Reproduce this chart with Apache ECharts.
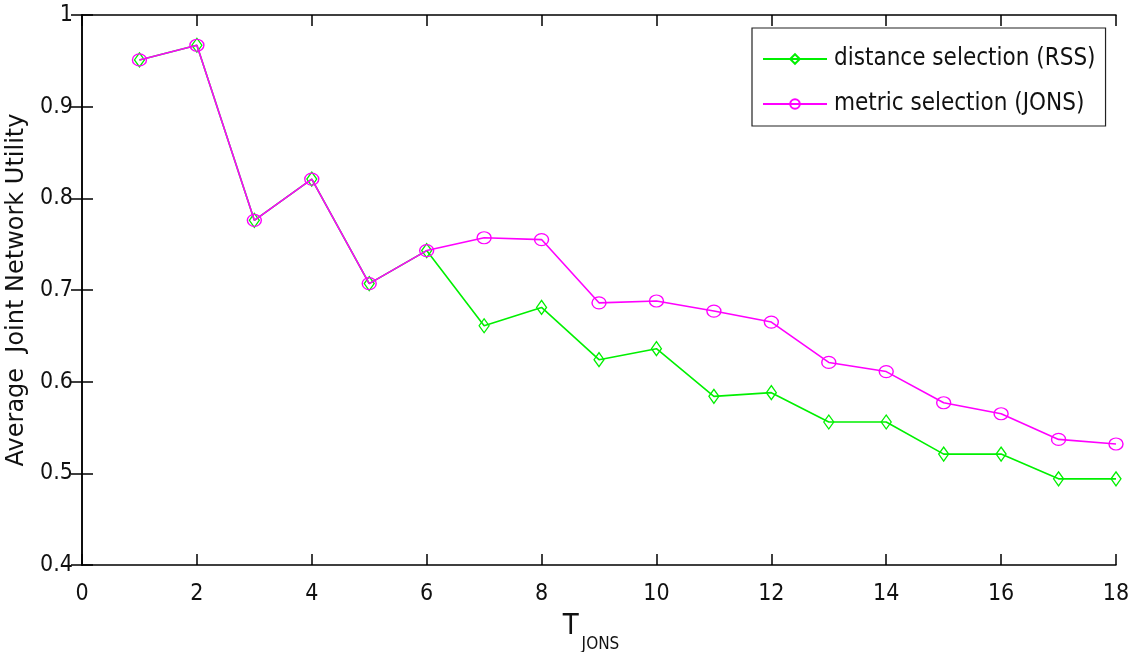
<!DOCTYPE html>
<html>
<head>
<meta charset="utf-8">
<script src="https://cdn.jsdelivr.net/npm/echarts@6/dist/echarts.min.js"></script>
<style>
  html, body { margin: 0; padding: 0; background: #fff; }
  #chart { width: 1130px; height: 652px; }
</style>
</head>
<body>
<div id="chart"></div>
<script>
// Window size T_JONS
const tValues = [1, 2, 3, 4, 5, 6, 7, 8, 9, 10, 11, 12, 13, 14, 15, 16, 17, 18];
// Average joint network utility, distance-based selection (RSS)
const rssUtility = [0.951, 0.967, 0.776, 0.821, 0.707, 0.743, 0.661, 0.681, 0.624, 0.636, 0.584, 0.588, 0.556, 0.556, 0.521, 0.521, 0.494, 0.494];
// Average joint network utility, metric-based selection (JONS)
const jonsUtility = [0.951, 0.967, 0.776, 0.821, 0.707, 0.743, 0.757, 0.755, 0.686, 0.688, 0.677, 0.665, 0.621, 0.611, 0.577, 0.565, 0.537, 0.532];

const NARROW = '"Liberation Sans Narrow", "DejaVu Sans Condensed", "Liberation Sans", sans-serif';
const WIDE = '"DejaVu Sans", "Liberation Sans", sans-serif';
const GREEN = '#00f000';
const MAGENTA = '#ff00ff';
const pair = (xs, ys) => xs.map((x, i) => [x, ys[i]]);

const chart = echarts.init(document.getElementById('chart'));

const tickStyle = { show: true, inside: true, length: 11, lineStyle: { color: '#000', width: 1.5 } };
const lineAxis = { show: true, lineStyle: { color: '#000', width: 1.5 } };

chart.setOption({
  backgroundColor: '#fff',
  animation: false,
  grid: { left: 82, right: 14, top: 15, bottom: 87, containLabel: false, outerBoundsMode: 'none' },
  legend: {
    left: 752,
    top: 28,
    orient: 'vertical',
    backgroundColor: '#fff',
    borderColor: '#222',
    borderWidth: 1.2,
    padding: [19, 10, 10, 10],
    itemGap: 21,
    itemWidth: 64,
    itemHeight: 12,
    textStyle: { fontFamily: NARROW, fontSize: 24, color: '#111', padding: [0, 0, 0, 2] },
    data: ['distance selection (RSS)', 'metric selection (JONS)']
  },
  xAxis: [
    {
      type: 'value', min: 0, max: 18, interval: 2, position: 'bottom',
      axisLine: lineAxis, axisTick: tickStyle, splitLine: { show: false },
      axisLabel: { fontFamily: NARROW, fontSize: 23, color: '#111', margin: 18 },
      name: '{t|T}{s|JONS}',
      nameLocation: 'middle',
      nameGap: 47,
      nameTextStyle: {
        padding: [0, 16, 0, 0],
        rich: {
          t: { fontFamily: NARROW, fontSize: 29, color: '#111', verticalAlign: 'top' },
          s: { fontFamily: NARROW, fontSize: 17, color: '#111', padding: [24, 0, 0, 3] }
        }
      }
    },
    {
      type: 'value', min: 0, max: 18, interval: 2, position: 'top',
      axisLine: lineAxis, axisTick: tickStyle, axisLabel: { show: false }, splitLine: { show: false }
    }
  ],
  yAxis: [
    {
      type: 'value', min: 0.4, max: 1, interval: 0.1, position: 'left',
      axisLine: lineAxis, axisTick: tickStyle, splitLine: { show: false },
      axisLabel: { fontFamily: NARROW, fontSize: 23, color: '#111', margin: 9 },
      name: 'Average  Joint Network Utility',
      nameLocation: 'middle',
      nameGap: 50,
      nameTextStyle: { fontFamily: WIDE, fontSize: 24, color: '#111' }
    },
    {
      type: 'value', min: 0.4, max: 1, interval: 0.1, position: 'right',
      axisLine: lineAxis, axisTick: tickStyle, axisLabel: { show: false }, splitLine: { show: false }
    }
  ],
  series: [
    {
      name: 'distance selection (RSS)',
      type: 'line',
      data: pair(tValues, rssUtility),
      color: GREEN,
      lineStyle: { color: GREEN, width: 1.6 },
      symbol: 'diamond',
      symbolSize: [10, 14],
      itemStyle: { color: 'rgba(255,255,255,0)', borderColor: GREEN, borderWidth: 1.3 },
      z: 2
    },
    {
      name: 'metric selection (JONS)',
      type: 'line',
      data: pair(tValues, jonsUtility),
      color: MAGENTA,
      lineStyle: { color: MAGENTA, width: 1.6 },
      symbol: 'circle',
      symbolSize: [14, 12],
      itemStyle: { color: 'rgba(255,255,255,0)', borderColor: MAGENTA, borderWidth: 1.3 },
      z: 3
    }
  ]
});
</script>
</body>
</html>
